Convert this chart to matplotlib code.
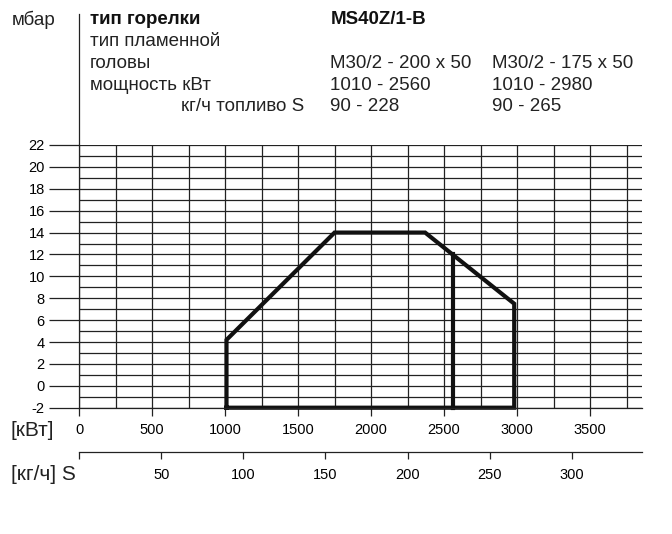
import matplotlib.pyplot as plt
from matplotlib.ticker import MultipleLocator

plt.rcParams['font.family'] = ['Liberation Sans', 'DejaVu Sans']
plt.rcParams['axes.unicode_minus'] = False

# рабочее поле горелки: мощность (кВт) и давление в камере (мбар)
field_kw = [1010, 1010, 1750, 2370, 2980, 2980, 1010]
field_mbar = [-2, 4.2, 14, 14, 7.5, -2, -2]
# граница для головы M30/2 - 200 x 50
head_kw = [2560, 2560]
head_mbar = [12, -2]

kw_per_kgh = 11.25  # пересчет кг/ч -> кВт для нижней шкалы
kw_max = 3855

# шапка таблицы
row_labels = ['тип пламенной', 'головы', 'мощность кВт']
col1 = ['', 'M30/2 - 200 x 50', '1010 - 2560', '90 - 228']
col2 = ['', 'M30/2 - 175 x 50', '1010 - 2980', '90 - 265']

W, H = 672, 534
fig = plt.figure(figsize=(W / 100, H / 100), dpi=100)


def px(x, y):
    return x / W, 1 - y / H


ink = '#222222'

ax = fig.add_axes([79 / W, (H - 407.7) / H, 563 / W, 262.7 / H])
ax.set_xlim(0, kw_max)
ax.set_ylim(-2, 22)
ax.xaxis.set_major_locator(MultipleLocator(500))
ax.xaxis.set_minor_locator(MultipleLocator(250))
ax.yaxis.set_major_locator(MultipleLocator(2))
ax.yaxis.set_minor_locator(MultipleLocator(1))
ax.grid(which='both', color=ink, lw=0.9)
ax.set_axisbelow(True)
ax.tick_params(axis='y', which='major', direction='out', length=21.6, width=0.9,
               color=ink, pad=3, labelsize=10.5)
ax.tick_params(axis='x', which='major', direction='out', length=6, width=0.9,
               color=ink, pad=5, labelsize=10.5)
ax.tick_params(which='minor', length=0)
for s in ['top', 'right']:
    ax.spines[s].set_visible(False)
for s in ['left', 'bottom']:
    ax.spines[s].set_color(ink)
    ax.spines[s].set_linewidth(0.9)

# ось мбар уходит вверх до шапки
ax.plot([0, 0], [22, 34], color=ink, lw=0.9, clip_on=False)

ax.plot(field_kw, field_mbar, color='#111111', lw=3, solid_joinstyle='miter', clip_on=False)
ax.plot(head_kw, head_mbar, color='#111111', lw=3, clip_on=False)

# нижняя шкала кг/ч
ax2 = fig.add_axes([79 / W, (H - 451.7) / H, 563 / W, 0.002])
ax2.set_xlim(0, kw_max / kw_per_kgh)
ax2.patch.set_visible(False)
for s in ['top', 'right', 'left']:
    ax2.spines[s].set_visible(False)
ax2.spines['bottom'].set_color(ink)
ax2.spines['bottom'].set_linewidth(0.9)
ax2.set_yticks([])
kgh_ticks = [0, 50, 100, 150, 200, 250, 300]
ax2.set_xticks(kgh_ticks)
ax2.set_xticklabels([''] + [str(t) for t in kgh_ticks[1:]])
ax2.tick_params(axis='x', direction='out', length=5, width=0.9, color=ink, pad=7, labelsize=10.5)

fs = 13.5
fig.text(*px(12, 20), 'мбар', fontsize=fs, va='center', color=ink)
fig.text(*px(90, 19), 'тип горелки', fontsize=fs, va='center', fontweight='bold', color='#111111')
fig.text(*px(331, 19), 'MS40Z/1-B', fontsize=fs, va='center', fontweight='bold', color='#111111')
for i, lab in enumerate(row_labels):
    fig.text(*px(90, 42 + 22 * i), lab, fontsize=fs, va='center', color=ink)
fig.text(*px(304, 107), 'кг/ч топливо S', fontsize=fs, va='center', ha='right', color=ink)
for i in range(1, 4):
    y = 42 + 22 * i if i < 3 else 107
    fig.text(*px(330, y), col1[i], fontsize=fs, va='center', color=ink)
    fig.text(*px(492, y), col2[i], fontsize=fs, va='center', color=ink)

fig.text(*px(11, 430), '[кВт]', fontsize=15, va='center', color=ink)
fig.text(*px(11, 474), '[кг/ч] S', fontsize=15, va='center', color=ink)

fig.savefig('out.png', dpi=100)
